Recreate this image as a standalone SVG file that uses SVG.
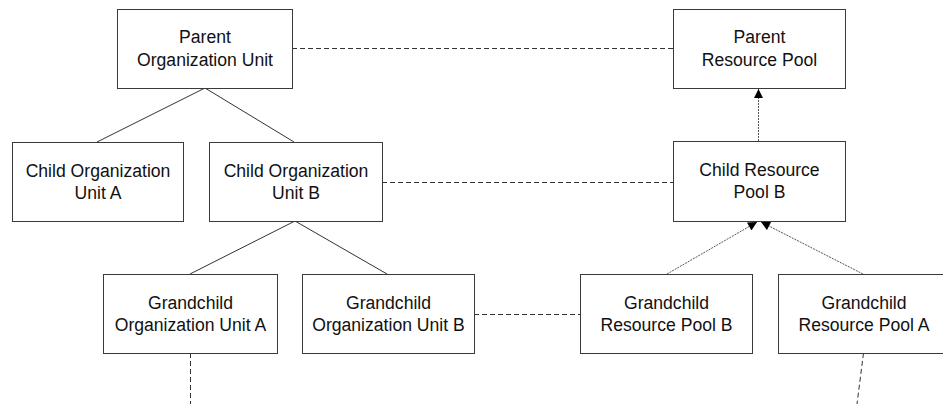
<svg xmlns="http://www.w3.org/2000/svg" width="943" height="404" viewBox="0 0 943 404">
<style>
.box{fill:#fff;stroke:#3a3a3a;stroke-width:1}
.t{font-family:"Liberation Sans",Arial,sans-serif;font-size:17.6px;fill:#111;text-anchor:middle}
.solid{stroke:#333;stroke-width:1;fill:none}
.dash{stroke:#333;stroke-width:1;fill:none;stroke-dasharray:5,3}
.dot{stroke:#555;stroke-width:1;fill:none;stroke-dasharray:2,1}
</style>
<defs>
<marker id="arr" viewBox="0 0 10 10" refX="10" refY="5" markerWidth="12" markerHeight="9" markerUnits="userSpaceOnUse" orient="auto">
<path d="M0,0 L10,5 L0,10 z" fill="#000"/>
</marker>
</defs>
<g id="connectors">
<line class="solid" x1="205" y1="88" x2="97" y2="142"/>
<line class="solid" x1="205" y1="88" x2="294" y2="142"/>
<line class="solid" x1="295" y1="221" x2="190" y2="274"/>
<line class="solid" x1="295" y1="221" x2="387" y2="274"/>
<line class="dash" x1="292" y1="48.5" x2="673" y2="48.5"/>
<line class="dash" x1="382" y1="182.5" x2="673" y2="182.5"/>
<line class="dash" x1="474" y1="314.5" x2="580" y2="314.5"/>
<line class="dash" x1="190.5" y1="353" x2="190.5" y2="404"/>
<line class="dash" x1="863.5" y1="353" x2="857" y2="404"/>
<line class="dot" x1="758.5" y1="141" x2="758.5" y2="89" marker-end="url(#arr)"/>
<line class="dot" x1="667" y1="274" x2="757" y2="222" marker-end="url(#arr)"/>
<line class="dot" x1="863" y1="274" x2="761" y2="222" marker-end="url(#arr)"/>
</g>
<g id="parent-org">
<rect class="box" x="117.5" y="9.5" width="175" height="79"/>
<text class="t" x="205" y="43">Parent</text>
<text class="t" x="205" y="66">Organization Unit</text>
</g>
<g id="parent-pool">
<rect class="box" x="673.5" y="9.5" width="172" height="79"/>
<text class="t" x="759.5" y="43">Parent</text>
<text class="t" x="759.5" y="66">Resource Pool</text>
</g>
<g id="child-org-a">
<rect class="box" x="12.5" y="142.5" width="171" height="79"/>
<text class="t" x="98" y="176.5">Child Organization</text>
<text class="t" x="98" y="198.5">Unit A</text>
</g>
<g id="child-org-b">
<rect class="box" x="209.5" y="142.5" width="173" height="79"/>
<text class="t" x="296" y="176.5">Child Organization</text>
<text class="t" x="296" y="198.5">Unit B</text>
</g>
<g id="child-pool-b">
<rect class="box" x="673.5" y="141.5" width="172" height="80"/>
<text class="t" x="759.5" y="176">Child Resource</text>
<text class="t" x="759.5" y="198">Pool B</text>
</g>
<g id="gc-org-a">
<rect class="box" x="103.5" y="274.5" width="174" height="79"/>
<text class="t" x="190.5" y="308.5">Grandchild</text>
<text class="t" x="190.5" y="330.5">Organization Unit A</text>
</g>
<g id="gc-org-b">
<rect class="box" x="302.5" y="274.5" width="172" height="79"/>
<text class="t" x="388.5" y="308.5">Grandchild</text>
<text class="t" x="388.5" y="330.5">Organization Unit B</text>
</g>
<g id="gc-pool-b">
<rect class="box" x="580.5" y="274.5" width="172" height="79"/>
<text class="t" x="666.5" y="308.5">Grandchild</text>
<text class="t" x="666.5" y="330.5">Resource Pool B</text>
</g>
<g id="gc-pool-a">
<rect class="box" x="778.5" y="274.5" width="172" height="79"/>
<text class="t" x="864" y="308.5">Grandchild</text>
<text class="t" x="864" y="330.5">Resource Pool A</text>
</g>
</svg>
